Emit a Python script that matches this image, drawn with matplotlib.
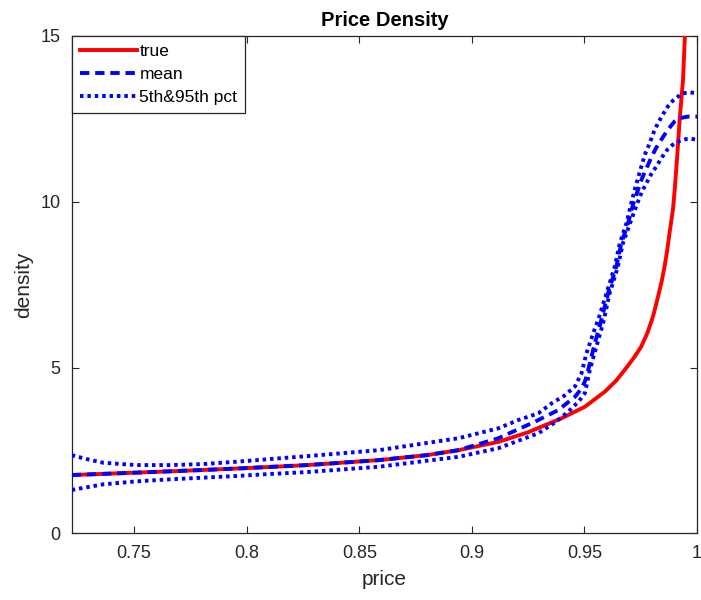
import matplotlib
matplotlib.use("Agg")
import matplotlib.pyplot as plt
import numpy as np

plt.rcParams['font.family'] = ['Liberation Sans', 'DejaVu Sans']

# ---- data ----
x_true = [0.7223, 0.750, 0.780, 0.800, 0.8269, 0.8587, 0.880, 0.8941, 0.9118, 0.925,
          0.9398, 0.9502, 0.9590, 0.9640, 0.9679, 0.9720, 0.9752, 0.9780, 0.9805,
          0.9827, 0.9843, 0.9856, 0.9868, 0.9878, 0.9893, 0.9901, 0.9912, 0.9923,
          0.9938, 0.9950]
y_true = [1.76, 1.83, 1.91, 1.97, 2.06, 2.21, 2.36, 2.51, 2.76, 3.05,
          3.47, 3.82, 4.27, 4.60, 4.93, 5.30, 5.63, 6.05, 6.55,
          7.14, 7.60, 8.05, 8.55, 9.06, 9.76, 10.36, 11.37, 12.48,
          13.69, 15.6]

x_mean = [0.7223, 0.750, 0.780, 0.800, 0.8269, 0.8587, 0.880, 0.8941, 0.9118, 0.9281,
          0.9384, 0.9458, 0.9485, 0.9502, 0.9514, 0.9524, 0.9546, 0.9568, 0.9605,
          0.9642, 0.9664, 0.9694, 0.9718, 0.9735, 0.9753, 0.9775, 0.9796, 0.9818,
          0.9841, 0.9870, 0.9900, 0.9929, 0.9960, 1.0]
y_mean = [1.76, 1.83, 1.91, 1.97, 2.06, 2.21, 2.36, 2.51, 2.87, 3.37,
          3.72, 4.12, 4.35, 4.58, 4.85, 5.13, 5.73, 6.25, 7.24,
          8.05, 8.75, 9.36, 9.96, 10.30, 10.66, 11.00, 11.32, 11.62,
          11.87, 12.17, 12.42, 12.53, 12.57, 12.57]

x_p95 = [0.7223, 0.7290, 0.7363, 0.7511, 0.7658, 0.7804, 0.7953, 0.8100, 0.8269,
         0.8587, 0.8941, 0.9118, 0.9207, 0.9295, 0.9354, 0.9410, 0.9458, 0.9487,
         0.9509, 0.9539, 0.9561, 0.9598, 0.9635, 0.9657, 0.9687, 0.9701, 0.9723,
         0.9753, 0.9770, 0.9790, 0.9808, 0.9827, 0.9850, 0.9871, 0.9890, 0.9908,
         0.9925, 0.9945, 0.9970, 1.0]
y_p95 = [2.36, 2.24, 2.13, 2.06, 2.06, 2.09, 2.16, 2.24, 2.33,
         2.51, 2.87, 3.17, 3.42, 3.62, 3.92, 4.15, 4.43, 4.83,
         5.43, 6.04, 6.44, 7.24, 8.05, 8.75, 9.36, 9.76, 10.36,
         11.07, 11.45, 11.77, 12.10, 12.38, 12.65, 12.88, 13.03, 13.13,
         13.22, 13.28, 13.30, 13.27]

x_p5 = [0.7223, 0.7363, 0.7511, 0.7658, 0.7804, 0.7953, 0.8100, 0.8269, 0.8587,
        0.8941, 0.9118, 0.9295, 0.9370, 0.9428, 0.9475, 0.9502, 0.9524, 0.9553,
        0.9583, 0.9612, 0.9649, 0.9671, 0.9703, 0.9735, 0.9755, 0.9775, 0.9798,
        0.9820, 0.9845, 0.9868, 0.9892, 0.9916, 0.9950, 0.9975, 1.0]
y_p5 = [1.31, 1.48, 1.57, 1.63, 1.68, 1.73, 1.79, 1.85, 2.01,
        2.31, 2.57, 3.02, 3.35, 3.67, 3.98, 4.23, 4.93, 5.63,
        6.34, 7.24, 8.05, 8.75, 9.36, 9.96, 10.30, 10.56, 10.85,
        11.07, 11.35, 11.57, 11.72, 11.82, 11.89, 11.90, 11.87]

x_ticks = [0.75, 0.8, 0.85, 0.9, 0.95, 1.0]
x_tick_labels = ['0.75', '0.8', '0.85', '0.9', '0.95', '1']
y_ticks = [0, 5, 10, 15]

# ---- figure ----
fig = plt.figure(figsize=(7.01, 6.0), dpi=100)
ax = fig.add_axes([0.1023, 0.111, 0.8920, 0.829])

lw = 2.8
ax.plot(x_true, y_true, color='#ff0000', lw=lw, label='true', zorder=3)
ax.plot(x_mean, y_mean, color='#0000ff', lw=lw, ls=(0, (2.4, 1.5)), label='mean', zorder=4)
ax.plot(x_p95, y_p95, color='#0000ff', lw=lw, ls=(0, (0.9, 1.0)),
        label='5th&95th pct', zorder=4)
ax.plot(x_p5, y_p5, color='#0000ff', lw=lw, ls=(0, (0.9, 1.0)), zorder=4)

ax.set_xlim(0.7223, 1.0)
ax.set_ylim(0, 15)
ax.set_xticks(x_ticks)
ax.set_xticklabels(x_tick_labels)
ax.set_yticks(y_ticks)

frame_c = '#262626'
for s in ax.spines.values():
    s.set_color(frame_c)
    s.set_linewidth(0.9)
ax.tick_params(direction='in', length=5, width=0.8, colors=frame_c,
               labelcolor='#262626', labelsize=13, top=True, right=True, pad=8)

ax.set_xlabel('price', fontsize=15, color='#262626', labelpad=6)
ax.set_ylabel('density', fontsize=15, color='#262626', labelpad=5)
ax.set_title('Price Density', fontsize=14.5, fontweight='bold', color='black', pad=7)

leg = ax.legend(loc='upper left', fontsize=12.5, frameon=True, fancybox=False,
                borderaxespad=0, handlelength=3.3, handletextpad=0.15,
                labelspacing=0.45, borderpad=0.45)
leg.get_frame().set_edgecolor(frame_c)
leg.get_frame().set_linewidth(0.9)
leg.get_frame().set_alpha(1)

fig.savefig('out.png', dpi=100)
